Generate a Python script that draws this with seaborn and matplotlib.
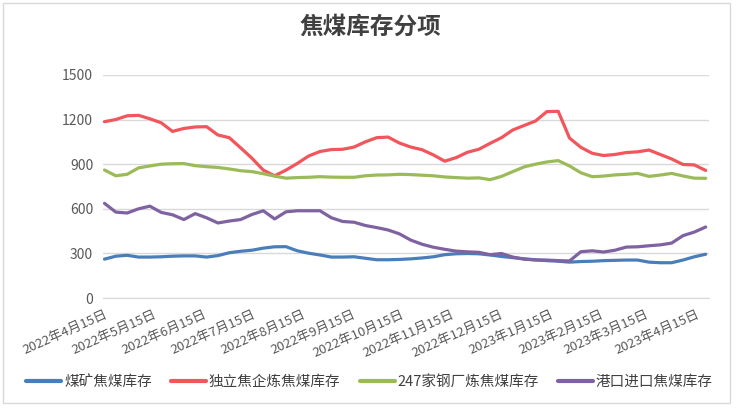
import pandas as pd
import matplotlib.pyplot as plt
import matplotlib.patches as mpatches
import seaborn as sns

# weekly readings, from 2022-04-15 onwards
start_date = '2022-04-15'
n_weeks = 54

coal_mine = [262, 282, 288, 276, 276, 278, 282, 284, 284, 276, 286, 305, 315, 322, 336, 345, 346, 318,
             302, 290, 276, 276, 278, 268, 258, 258, 260, 264, 270, 278, 292, 298, 300, 298, 290, 280,
             272, 264, 258, 252, 248, 242, 246, 248, 252, 254, 256, 256, 242, 238, 238, 256, 278, 295]
coking_plant = [1185, 1200, 1225, 1228, 1205, 1178, 1120, 1140, 1150, 1152, 1096, 1078, 1010, 940, 860,
                822, 860, 905, 955, 985, 998, 1000, 1015, 1050, 1078, 1082, 1042, 1015, 997, 962, 920,
                944, 980, 1000, 1040, 1078, 1130, 1160, 1190, 1253, 1255, 1075, 1013, 973, 958, 965, 978,
                983, 995, 965, 935, 898, 895, 858]
steel_mill = [861, 822, 832, 875, 888, 900, 903, 904, 890, 883, 878, 868, 856, 850, 836, 820, 806, 810,
              812, 816, 813, 812, 812, 822, 827, 828, 832, 830, 826, 822, 814, 810, 806, 808, 796, 818,
              850, 882, 900, 915, 924, 888, 842, 816, 820, 828, 832, 838, 818, 827, 838, 821, 806, 805]
port_import = [637, 578, 572, 600, 618, 576, 560, 528, 568, 540, 505, 518, 528, 562, 587, 532, 580, 587,
               587, 587, 540, 515, 510, 488, 474, 458, 432, 390, 362, 342, 328, 316, 311, 308, 292, 300,
               276, 262, 256, 256, 252, 250, 312, 318, 310, 322, 343, 345, 352, 358, 370, 420, 444, 478]

series_names = ['煤矿焦煤库存', '独立焦企炼焦煤库存', '247家钢厂炼焦煤库存', '港口进口焦煤库存']
colors = ['#4A7EBB', '#F2555B', '#9BBB59', '#7F62A1']

tick_dates = ['2022-04-15', '2022-05-15', '2022-06-15', '2022-07-15', '2022-08-15', '2022-09-15',
              '2022-10-15', '2022-11-15', '2022-12-15', '2023-01-15', '2023-02-15', '2023-03-15',
              '2023-04-15']
tick_labels = ['2022年4月15日', '2022年5月15日', '2022年6月15日', '2022年7月15日', '2022年8月15日',
               '2022年9月15日', '2022年10月15日', '2022年11月15日', '2022年12月15日', '2023年1月15日',
               '2023年2月15日', '2023年3月15日', '2023年4月15日']

dates = pd.date_range(start_date, periods=n_weeks, freq='7D')
df = pd.DataFrame({'date': dates,
                   series_names[0]: coal_mine,
                   series_names[1]: coking_plant,
                   series_names[2]: steel_mill,
                   series_names[3]: port_import})
long = df.melt(id_vars='date', var_name='series', value_name='value')

sns.set_style('white')
plt.rcParams['font.family'] = ['Noto Sans CJK SC', 'DejaVu Sans']

fig, ax = plt.subplots(figsize=(7.4, 4.09), dpi=100)
fig.subplots_adjust(left=0.139, right=0.958, top=0.817, bottom=0.271)

sns.lineplot(data=long, x='date', y='value', hue='series', hue_order=series_names,
             palette=colors, linewidth=2.3, ax=ax)

ax.set_ylim(0, 1500)
ax.set_yticks([0, 300, 600, 900, 1200, 1500])
ax.set_xlim(pd.Timestamp('2022-04-14'), dates[-1] + pd.Timedelta(days=2))
ax.yaxis.grid(True, color='#D9D9D9', linewidth=1)
ax.set_axisbelow(True)
for s in ['top', 'right', 'left']:
    ax.spines[s].set_visible(False)
ax.spines['bottom'].set_color('#D9D9D9')

ax.set_xticks(pd.to_datetime(tick_dates))
ax.set_xticklabels(tick_labels, rotation=24, ha='right', rotation_mode='anchor')
ax.tick_params(axis='x', length=5, color='#D9D9D9', labelsize=9.5, labelcolor='#595959', pad=2)
ax.tick_params(axis='y', length=0, labelsize=10, labelcolor='#595959', pad=7)
ax.set_xlabel('')
ax.set_ylabel('')

fig.suptitle('焦煤库存分项', x=0.5, y=0.965, fontsize=17, fontweight='bold', color='#404040')

leg = ax.legend(loc='upper center', bbox_to_anchor=(0.44, -0.285), ncol=4, frameon=False,
                fontsize=10.5, handlelength=2.4, columnspacing=1.3, handletextpad=0.2)
for t in leg.get_texts():
    t.set_color('#404040')
for ln in leg.get_lines():
    ln.set_linewidth(3)

fig.patches.append(mpatches.Rectangle((0.004, 0.015), 0.982, 0.978, transform=fig.transFigure,
                                      fill=False, edgecolor='#D9D9D9', linewidth=1))

fig.savefig('out.png', dpi=100)
